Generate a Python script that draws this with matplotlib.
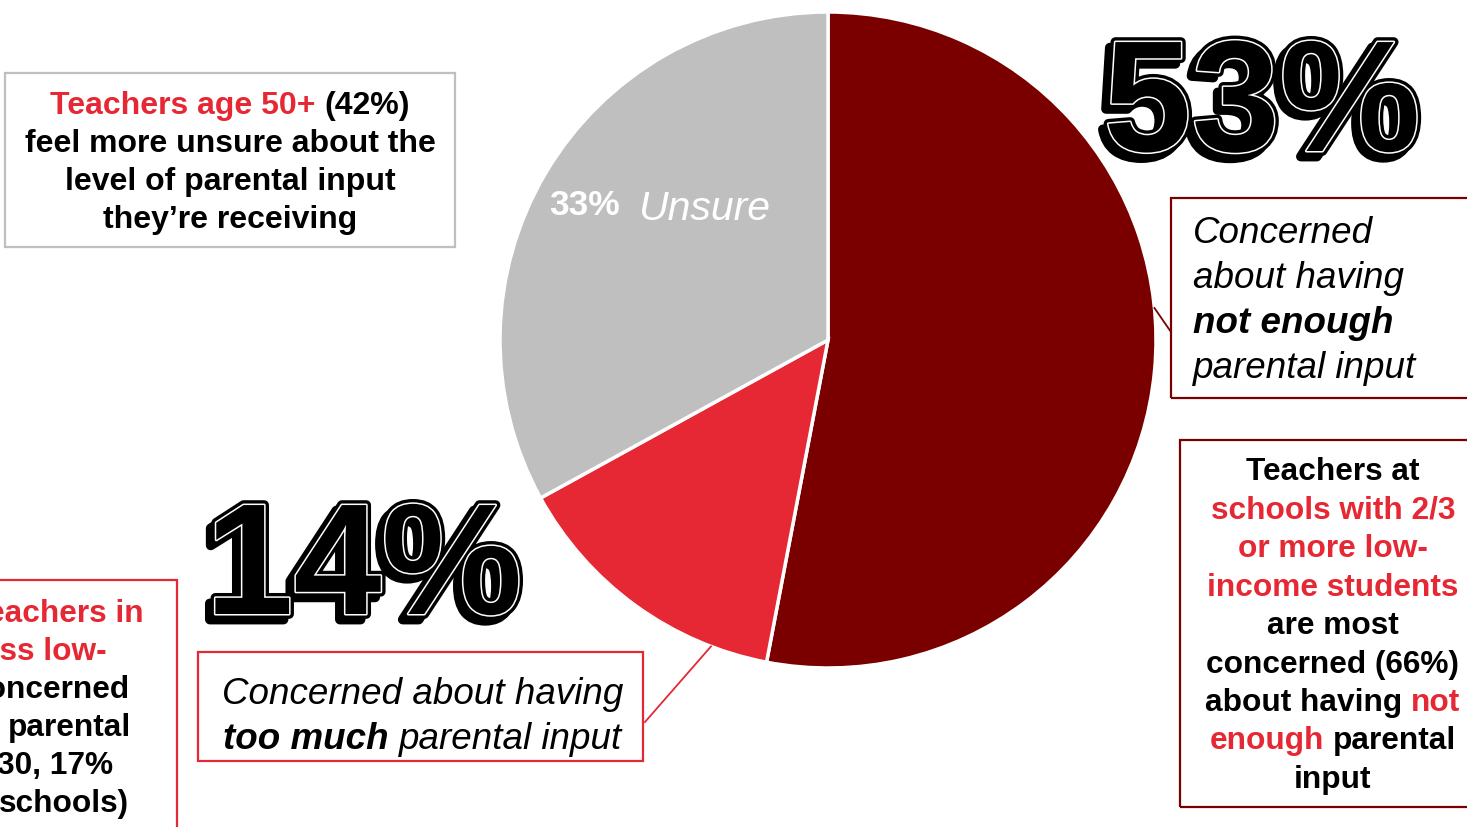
"""Teacher views on parental input: pie with callout boxes."""

import matplotlib

matplotlib.use("Agg")
import math

import matplotlib.pyplot as plt
from matplotlib import patches
from matplotlib import patheffects as pe

W, H = 1467, 827
FONT = ["Liberation Sans", "DejaVu Sans"]

DARK_RED = "#7A0000"
RED = "#E52833"
GRAY = "#BFBFBF"

# pie data: not enough / too much / unsure
shares = [53, 14, 33]
share_labels = ["Not enough", "Too much", "Unsure"]
slice_colors = [DARK_RED, RED, GRAY]

unsure_pct = "33%"
unsure_word = "Unsure"
big_not_enough = "53%"
big_too_much = "14%"

age_note = [
    [("Teachers age 50+", RED), ("(42%)", "black")],
    [("feel more unsure about the", "black")],
    [("level of parental input", "black")],
    [("they\u2019re receiving", "black")],
]
not_enough_note = [
    [("Concerned", "normal")],
    [("about having", "normal")],
    [("not enough", "bold")],
    [("parental input", "normal")],
]
too_much_note = [
    [("Concerned about having", "normal")],
    [("too much", "bold"), ("parental input", "normal")],
]
low_income_note = [
    [("Teachers at", "black")],
    [("schools with 2/3", RED)],
    [("or more low-", RED)],
    [("income students", RED)],
    [("are most", "black")],
    [("concerned (66%)", "black")],
    [("about having", "black"), ("not", RED)],
    [("enough", RED), ("parental", "black")],
    [("input", "black")],
]
less_low_income_note = [
    ("Teachers in", RED),
    ("less low-", RED),
    ("concerned", "black"),
    ("parental", "black"),
    ("30, 17%", "black"),
    ("schools)", "black"),
]


def fy(y):
    """Flip a top-down pixel row into the axes' bottom-up units."""
    return H - y


def space_width(ax, renderer, **kw):
    a = ax.text(0, 0, "x x", **kw)
    b = ax.text(0, 0, "xx", **kw)
    w = a.get_window_extent(renderer).width - b.get_window_extent(renderer).width
    a.remove()
    b.remove()
    return w


def rich_block(ax, x, y0, step, lines, size, ha="center", kind="color"):
    """Draw lines built from runs; a run is (text, colour) or (text, weight)."""
    renderer = ax.figure.canvas.get_renderer()
    for i, runs in enumerate(lines):
        y = fy(y0 + i * step)
        texts = []
        for s, opt in runs:
            if kind == "color":
                kw = dict(color=opt, fontweight="bold", fontstyle="normal")
            else:
                kw = dict(color="black", fontweight=opt, fontstyle="italic")
            t = ax.text(0, y, s, fontsize=size, family=FONT, va="baseline",
                        ha="left", **kw)
            texts.append(t)
        gap = space_width(ax, renderer, fontsize=size, family=FONT,
                          fontweight="bold" if kind == "color" else "normal",
                          fontstyle="normal" if kind == "color" else "italic")
        widths = [t.get_window_extent(renderer).width for t in texts]
        total = sum(widths) + gap * (len(texts) - 1)
        left = x - total / 2 if ha == "center" else x
        for t, w in zip(texts, widths):
            t.set_x(left)
            left += w + gap


def big_number(ax, x, y, s):
    effects = [
        pe.Stroke(offset=(-4, -4), linewidth=7, foreground="black"),
        pe.Stroke(linewidth=7, foreground="black"),
        pe.Stroke(linewidth=2.2, foreground="white"),
        pe.Normal(),
    ]
    ax.text(x, fy(y), s, fontsize=114, fontweight="bold", family=FONT,
            color="black", ha="center", va="baseline", path_effects=effects)


def box(ax, x0, y0, x1, y1, color, lw=1.6):
    ax.add_patch(patches.Rectangle((x0, fy(y1)), x1 - x0, y1 - y0,
                                   fill=False, edgecolor=color, linewidth=lw,
                                   clip_on=False))


fig = plt.figure(figsize=(W / 100, H / 100), dpi=100)
ax = fig.add_axes([0, 0, 1, 1])

cx, cy, r = 828, 340, 328
ax.pie(shares, colors=slice_colors, startangle=90, counterclock=False,
       center=(cx, fy(cy)), radius=r,
       wedgeprops=dict(edgecolor="white", linewidth=2.5))
ax.set_xlim(0, W)
ax.set_ylim(0, H)
ax.set_aspect("equal")
ax.axis("off")

# label inside the grey slice
ax.text(549, fy(215), unsure_pct, fontsize=25.5, fontweight="bold",
        family=FONT, color="white", ha="left", va="baseline")
ax.text(639, fy(220), unsure_word, fontsize=29.5, fontstyle="italic",
        family=FONT, color="white", ha="left", va="baseline")

big_number(ax, 1262, 151, big_not_enough)
big_number(ax, 364, 614, big_too_much)

# callout leader lines to the slice edges
for (bx, by), ang in [((1171, 332), 5.6), ((645, 722), -110.9)]:
    ex = cx + r * math.cos(math.radians(ang))
    ey = cy - r * math.sin(math.radians(ang))
    col = DARK_RED if ang > 0 else RED
    ax.plot([bx, ex], [fy(by), fy(ey)], color=col, linewidth=1.3)

box(ax, 5, 73, 455, 247, GRAY)
rich_block(ax, 230, 114, 38, age_note, 23)

box(ax, 1171, 198, 1475, 398, DARK_RED)
rich_block(ax, 1193, 243, 45, not_enough_note, 26.5, ha="left", kind="weight")

box(ax, 198, 652, 643, 761, RED)
rich_block(ax, 423, 704, 45, too_much_note, 26.5, kind="weight")

box(ax, 1180, 440, 1475, 807, DARK_RED)
rich_block(ax, 1333, 480, 38.5, low_income_note, 22.8)

# this note runs off the left edge; the clipped words stay as drawn
box(ax, -10, 580, 177, 840, RED)
right_edges = [144, 107, 130, 131, 113, 129]
for i, ((s, col), xr) in enumerate(zip(less_low_income_note, right_edges)):
    ax.text(xr, fy(622 + i * 38), s, fontsize=22.8, fontweight="bold",
            family=FONT, color=col, ha="right", va="baseline")

fig.savefig("out.png", dpi=100)
